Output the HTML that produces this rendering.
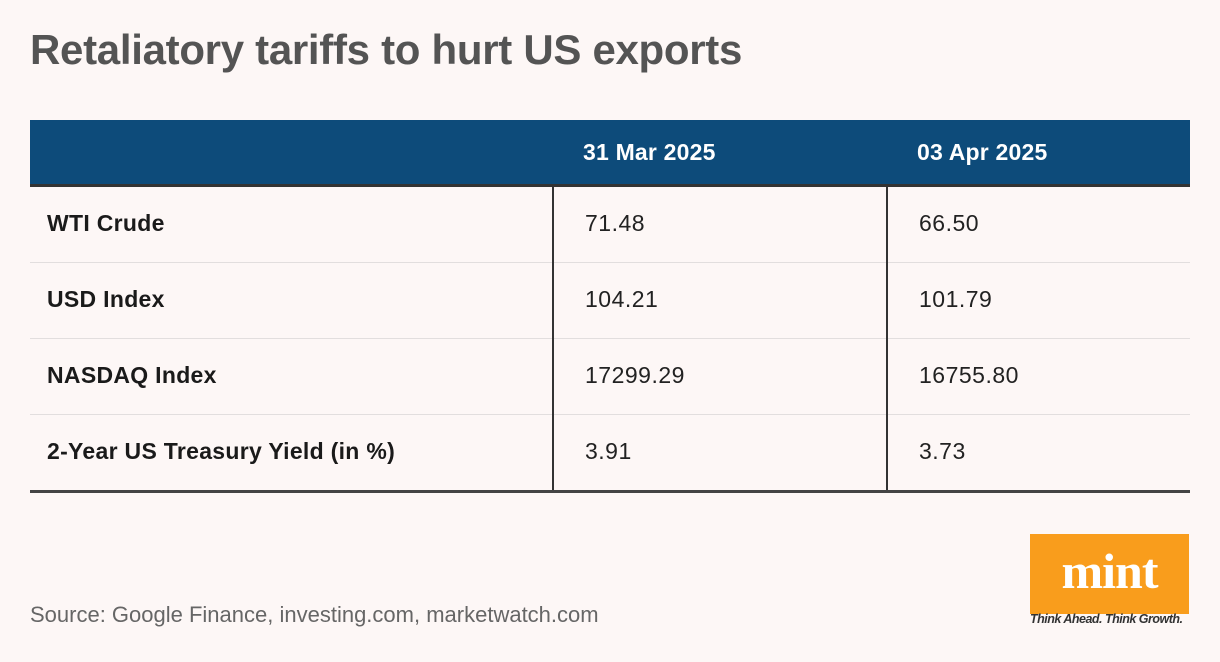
<!DOCTYPE html>
<html><head><meta charset="utf-8"><style>
body{margin:0;width:1220px;height:662px;background:#fdf7f6;font-family:"Liberation Sans",sans-serif;position:relative;overflow:hidden}
.a{position:absolute}
h1{position:absolute;left:30px;top:26px;margin:0;font-size:42px;font-weight:bold;color:#545454;letter-spacing:-0.3px}
.hdr{left:30px;top:120px;width:1160px;height:64px;background:#0d4b7a}
.hline{left:30px;top:184px;width:1160px;height:3px;background:#333}
.ht{top:139px;color:#fff;font-weight:bold;font-size:23px;letter-spacing:0.2px}
.row{left:30px;width:1160px;height:76px;border-bottom:1px solid #e2dede;box-sizing:border-box}
.lab{left:47px;font-weight:bold;font-size:23px;color:#1a1a1a;letter-spacing:0.3px}
.val{font-size:23px;color:#222;letter-spacing:0.5px}
.vl{top:187px;width:1.5px;height:304px;background:#333}
.bot{left:30px;top:490px;width:1160px;height:3px;background:#444}
</style></head><body>
<h1>Retaliatory tariffs to hurt US exports</h1>
<div class="a hdr"></div>
<div class="a ht" style="left:583px">31 Mar 2025</div>
<div class="a ht" style="left:917px">03 Apr 2025</div>
<div class="a hline"></div>
<div id="rows"></div>
<div class="a vl" style="left:552px"></div>
<div class="a vl" style="left:886px"></div>
<div class="a bot"></div>
<div class="a" style="left:30px;top:602px;font-size:22px;color:#666;letter-spacing:0">Source: Google Finance, investing.com, marketwatch.com</div>
<div class="a" style="left:1030px;top:534px;width:159px;height:80px;background:#f99d1c">
<div style="position:absolute;left:0;right:0;top:8px;text-align:center;font-family:'Liberation Serif',serif;font-weight:bold;font-size:50px;color:#fff;letter-spacing:-1px">mint</div></div>
<div class="a" style="left:1030px;top:612px;font-size:12.5px;font-style:italic;font-weight:bold;color:#333;letter-spacing:-0.5px">Think Ahead. Think Growth.</div>
<script>
const labels=["WTI Crude","USD Index","NASDAQ Index","2-Year US Treasury Yield (in %)"];
const mar31=["71.48","104.21","17299.29","3.91"];
const apr03=["66.50","101.79","16755.80","3.73"];
const c=document.getElementById('rows');
labels.forEach((l,i)=>{
 const top=187+i*76;
 const r=document.createElement('div');r.className='a row';r.style.top=top+'px';
 
 
 c.appendChild(r);
 const a=document.createElement('div');a.className='a lab';a.style.top=(top+23)+'px';a.textContent=l;
 
 
 c.appendChild(a);
 const v1=document.createElement('div');v1.className='a val';v1.style.left='585px';v1.style.top=(top+23)+'px';v1.textContent=mar31[i];
 
 
 c.appendChild(v1);
 const v2=document.createElement('div');v2.className='a val';v2.style.left='919px';v2.style.top=(top+23)+'px';v2.textContent=apr03[i];
 
 
 c.appendChild(v2);
});
</script>
</body></html>
